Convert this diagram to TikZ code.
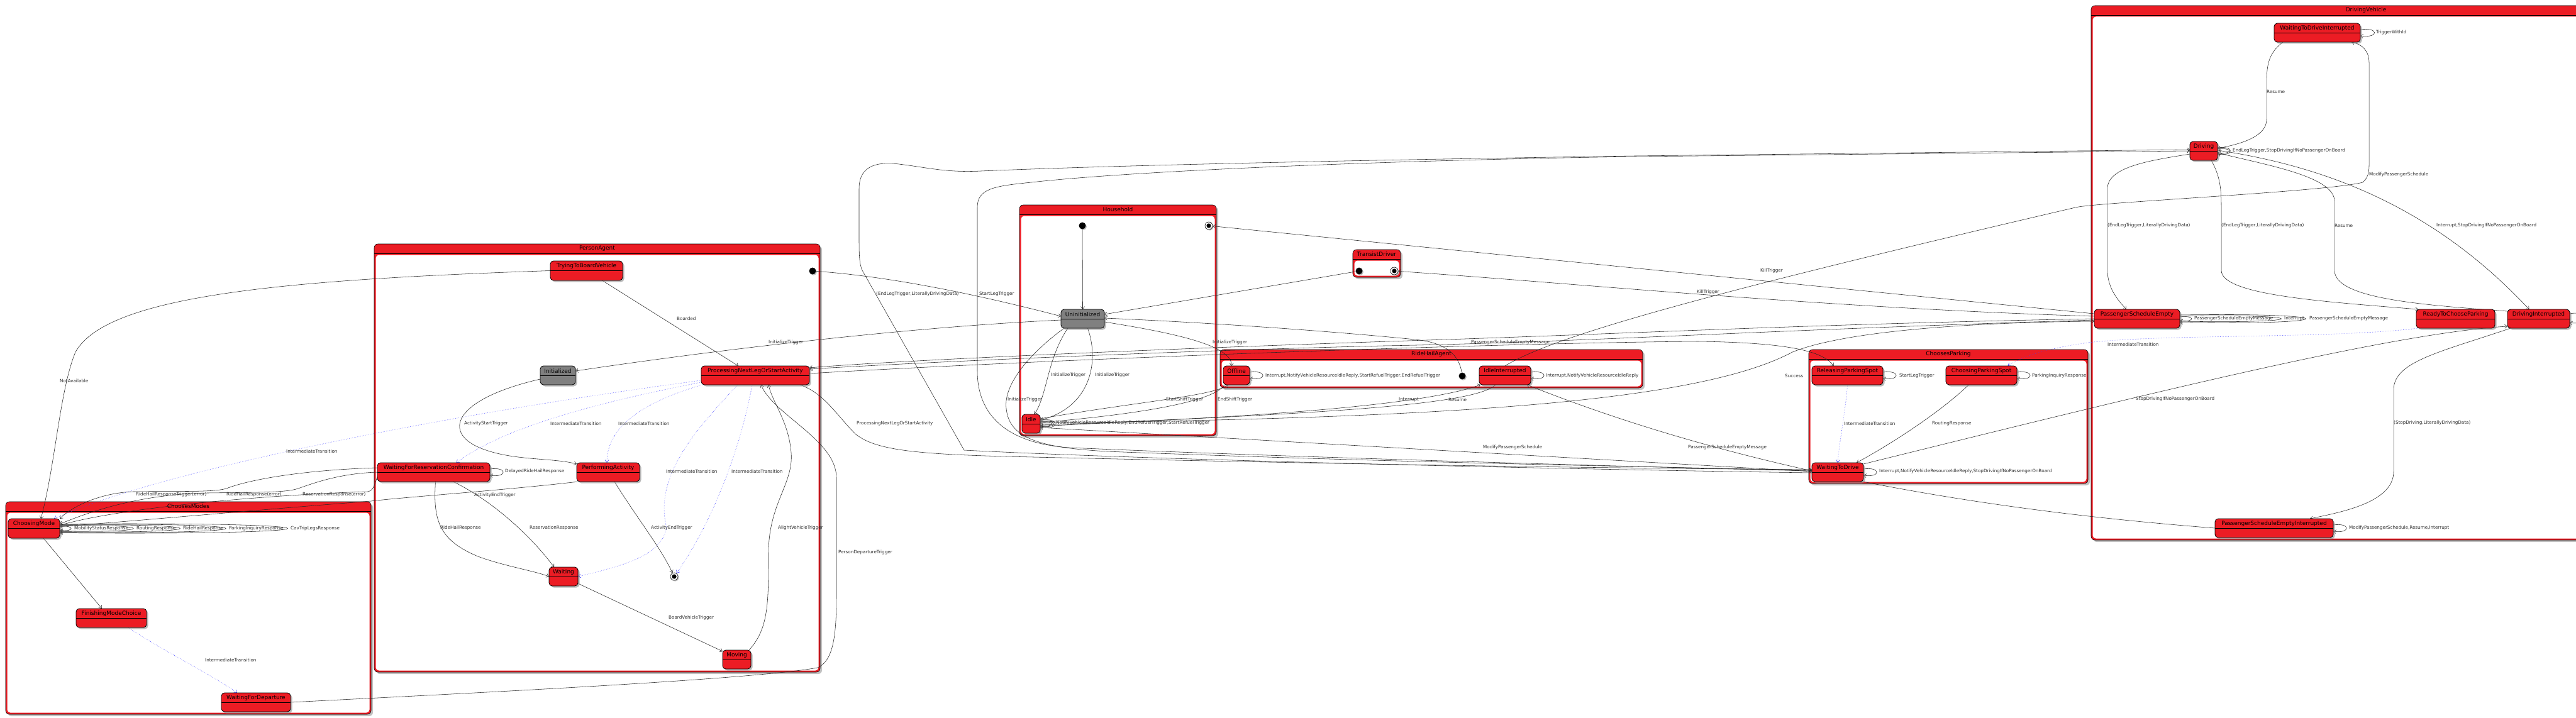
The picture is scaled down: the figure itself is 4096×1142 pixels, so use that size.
\documentclass[tikz,border=0pt]{standalone}
\usepackage{fontspec}
\setmainfont{DejaVu Sans}
\usetikzlibrary{arrows.meta,shadows,calc}
\definecolor{stred}{RGB}{236,28,36}
\definecolor{stgray}{RGB}{128,128,128}
\definecolor{lblc}{RGB}{45,45,45}
\pgfdeclarelayer{bg}
\pgfdeclarelayer{edges}
\pgfsetlayers{bg,edges,main}
\tikzset{
  stbox/.style={draw=black, line width=0.8pt, fill=stred, rounded corners=5pt, inner sep=0pt, outer sep=0pt,
    drop shadow={shadow xshift=2.5pt, shadow yshift=-2.5pt, fill=black!45, opacity=0.6}},
  stgraybox/.style={stbox, fill=stgray},
  sttext/.style={font=\fontsize{9}{10}\selectfont, inner sep=0pt, text=black},
  cttext/.style={font=\fontsize{9}{10}\selectfont, inner sep=0pt, text=black},
  lbl/.style={font=\fontsize{7.2}{8}\selectfont, inner sep=0pt, anchor=west, text=lblc},
  tr/.style={draw=black!85, line width=0.55pt, -{Straight Barb[length=4pt,width=6pt]}},
  it/.style={draw=blue!75, dotted, line width=0.6pt, -{Straight Barb[length=4pt,width=6pt]}},
  initdot/.style={circle, fill=black, minimum size=11pt, inner sep=0pt,
    drop shadow={shadow xshift=1.5pt, shadow yshift=-1.5pt, fill=black!40, opacity=0.6}},
  finaldot/.style={circle, draw=black, line width=0.6pt, fill=white, minimum size=12pt, inner sep=0pt,
    path picture={\fill[black] (path picture bounding box.center) circle (3.6pt);},
    drop shadow={shadow xshift=1.5pt, shadow yshift=-1.5pt, fill=black!40, opacity=0.6}},
}
\newcommand\mycont[6]{%
  \draw[line width=0.6pt, fill=stred, rounded corners=6pt,
    drop shadow={shadow xshift=3pt, shadow yshift=-3pt, fill=black!40, opacity=0.6}] (#2,#3) rectangle (#4,#5);
  \fill[white, rounded corners=5pt] ({#2+2.5},{#3+17.5}) rectangle ({#4-2.5},{#5-2.5});
  \draw[line width=0.6pt] (#2,{#3+15}) -- (#4,{#3+15});
  \node[cttext] (#1) at ({(#2+#4)/2},{#3+7.5}) {#6};
}
\newcommand\mystate[7]{%
  \node[#7, minimum width={#4-#2}, minimum height={#5-#3}] (#1) at ({(#2+#4)/2},{(#3+#5)/2}) {};
  \draw[line width=0.8pt] ($(#1.north west)+(0,15)$) -- ($(#1.north east)+(0,15)$);
  \node[sttext] (#1-t) at ($(#1.north)+(0,8)$) {#6};
}
\newcommand\myloop[4]{%
  \draw[tr] ($(#1.east)+(0,-#2)$) .. controls +(#3,-#4) and +(#3,#4) .. ($(#1.east)+(0,#2)$);
}
\begin{document}
\begin{tikzpicture}[x=1pt,y=-1pt]
\path[use as bounding box] (0,0) rectangle (4096,1142);
\begin{pgfonlayer}{bg}
\fill[white] (0,0) rectangle (4096,1142);
\mycont{cmc}{9}{798}{590}{1136}{ChoosesModes}
\mycont{pac}{595}{388}{1304}{1069}{PersonAgent}
\mycont{hhc}{1621}{326}{1934}{693}{Household}
\mycont{tdc}{2151}{397}{2227}{441}{TransistDriver}
\mycont{rhc}{1940}{556}{2612}{617}{RideHailAgent}
\mycont{cpc}{2876}{556}{3320}{769}{ChoosesParking}
\mycont{dvc}{3325}{9}{4199}{859}{DrivingVehicle}
\end{pgfonlayer}

% states
\mystate{cm}{13}{825}{95}{856}{ChoosingMode}{stbox}
\mystate{fmc}{121}{968}{233}{998}{FinishingModeChoice}{stbox}
\mystate{wfd}{352}{1102}{462}{1132}{WaitingForDeparture}{stbox}
\mystate{ttbv}{875}{415}{990}{446}{TryingToBoardVehicle}{stbox}
\mystate{init}{859}{582}{915}{612}{Initialized}{stgraybox}
\mystate{pnl}{1115}{582}{1287}{612}{ProcessingNextLegOrStartActivity}{stbox}
\mystate{wfrc}{600}{736}{779}{766}{WaitingForReservationConfirmation}{stbox}
\mystate{pa}{917}{736}{1017}{766}{PerformingActivity}{stbox}
\mystate{wait}{873}{902}{919}{932}{Waiting}{stbox}
\mystate{mov}{1149}{1034}{1194}{1064}{Moving}{stbox}
\mystate{unin}{1687}{492}{1756}{522}{Uninitialized}{stgraybox}
\mystate{idle}{1625}{659}{1654}{689}{Idle}{stbox}
\mystate{rhoff}{1945}{582}{1987}{612}{Offline}{stbox}
\mystate{idlei}{2352}{582}{2434}{612}{IdleInterrupted}{stbox}
\mystate{rps}{2881}{582}{2994}{612}{ReleasingParkingSpot}{stbox}
\mystate{cps}{3094}{582}{3207}{612}{ChoosingParkingSpot}{stbox}
\mystate{wtd}{2881}{736}{2963}{766}{WaitingToDrive}{stbox}
\mystate{wtdi}{3616}{37}{3753}{67}{WaitingToDriveInterrupted}{stbox}
\mystate{drv}{3482}{225}{3526}{255}{Driving}{stbox}
\mystate{pse}{3330}{492}{3466}{522}{PassengerScheduleEmpty}{stbox}
\mystate{rtcp}{3842}{492}{3967}{522}{ReadyToChooseParking}{stbox}
\mystate{di}{3987}{492}{4086}{522}{DrivingInterrupted}{stbox}
\mystate{psei}{3522}{825}{3710}{855}{PassengerScheduleEmptyInterrupted}{stbox}

\node[initdot] (painit) at (1292,431) {};
\node[finaldot] (pafin) at (1072,917) {};
\node[initdot] (hhinit) at (1721,359) {};
\node[finaldot] (hhfin) at (1922,359) {};
\node[initdot] (tdinit) at (2161,431) {};
\node[finaldot] (tdfin) at (2217,431) {};
\node[initdot] (rhinit) at (2325,598) {};

\begin{pgfonlayer}{edges}
% ChoosesModes
\draw[tr] ($(cm.south)+(15,0)$) -- ($(fmc.north)+(-15,0)$);
\draw[it] ($(fmc.south)+(27,0)$) .. controls (250,1030) and (340,1075) .. ($(wfd.north)+(-30,0)$);
\myloop{cm}{3}{24}{3}
\myloop{cm}{4}{156}{4}
\myloop{cm}{5}{255}{4}
\myloop{cm}{6}{352}{4}
\myloop{cm}{7}{483}{4}
\draw[tr] (ttbv.west) .. controls (450,445) and (170,470) .. (120,560) .. controls (95,620) and (88,740) .. ($(cm.north)+(11,0)$);
\draw[it] ($(pnl.west)+(0,8)$) .. controls (700,660) and (250,750) .. ($(cm.north)+(32,0)$);
\draw[tr] ($(wfrc.west)+(0,-7)$) .. controls (470,748) and (390,765) .. (360,777) .. controls (340,783) and (290,781) .. (212,782) .. controls (160,784) and (115,805) .. (cm.north east);
\draw[tr] (wfrc.west) .. controls (540,753) and (500,768) .. (474,777) .. controls (455,784) and (400,783) .. (330,784) .. controls (220,786) and (140,815) .. ($(cm.east)+(0,-7)$);
\draw[tr] ($(wfrc.west)+(0,7)$) .. controls (596,770) and (594,780) .. (585,782) .. controls (450,786) and (200,805) .. ($(cm.east)+(0,-5)$);
\draw[tr] ($(pa.south west)+(3,0)$) .. controls (800,780) and (650,790) .. (590,797) .. controls (420,810) and (200,830) .. ($(cm.east)+(0,-3)$);
% PersonAgent
\draw[tr] (painit) .. controls (1420,440) and (1560,470) .. ($(unin.west)+(0,-4)$);
\draw[tr] ($(ttbv.south)+(25,0)$) -- ($(pnl.north)+(-27,0)$);
\draw[tr] ($(unin.west)+(0,2)$) .. controls (1450,520) and (1150,555) .. ($(init.east)+(0,-7)$);
\draw[tr] ($(init.west)+(0,6)$) .. controls (720,635) and (700,690) .. (770,715) .. controls (820,733) and (880,728) .. ($(pa.north west)+(0,2)$);
\draw[it] ($(pnl.west)+(0,11)$) .. controls (950,640) and (800,680) .. ($(wfrc.north)+(36,0)$);
\draw[it] ($(pnl.south west)+(2,0)$) .. controls (1020,640) and (965,680) .. ($(pa.north)+(-2,0)$);
\draw[it] ($(pnl.south)+(-28,0)$) .. controls (1100,690) and (1040,760) .. (1060,840) .. controls (1050,885) and (990,900) .. (wait.east);
\draw[it] ($(pnl.south)+(-5,0)$) .. controls (1180,700) and (1140,820) .. (pafin);
\myloop{wfrc}{5}{28}{4}
\draw[tr] ($(wfrc.south)+(3,0)$) .. controls (688,830) and (700,860) .. (760,885) .. controls (800,900) and (850,908) .. (wait.west);
\draw[tr] ($(wfrc.south)+(31,0)$) .. controls (790,800) and (850,860) .. ($(wait.north)+(-15,0)$);
\draw[tr] ($(pa.south)+(10,0)$) .. controls (1010,820) and (1050,870) .. (pafin);
\draw[tr] ($(wait.east)+(0,11)$) -- ($(mov.north west)+(0,2)$);
\draw[tr] ($(mov.north east)+(-3,0)$) .. controls (1222,1000) and (1222,960) .. (1222,880) .. controls (1222,800) and (1262,770) .. (1258,720) .. controls (1254,670) and (1228,640) .. ($(pnl.south)+(21,0)$);
\draw[tr] (wfd.east) .. controls (800,1100) and (1200,1080) .. (1300,1062) .. controls (1328,1050) and (1330,1000) .. (1330,940) -- (1330,760) .. controls (1330,700) and (1230,660) .. ($(pnl.south)+(9,0)$);
\draw[tr] ($(pnl.south east)+(-15,0)$) .. controls (1310,625) and (1330,660) .. (1360,690) .. controls (1390,715) and (1450,722) .. (1600,726) .. controls (2200,740) and (2600,745) .. ($(wtd.west)+(0,-4)$);
% back edges to Driving
\draw[tr] ($(wtd.west)+(0,-2)$) .. controls (2500,740) and (2000,725) .. (1700,712) .. controls (1600,705) and (1554,660) .. (1554,590) -- (1554,330) .. controls (1554,300) and (1580,296) .. (1640,290) .. controls (1800,272) and (2200,255) .. (2600,249) -- (drv.west);
\draw[tr] ($(wtd.west)+(0,1)$) .. controls (2400,745) and (1800,730) .. (1533,716) -- (1371,430) .. controls (1366,420) and (1366,400) .. (1366,380) -- (1366,300) .. controls (1366,270) and (1385,258) .. (1420,260) .. controls (1470,265) and (1500,275) .. (1560,272) .. controls (1800,262) and (2200,254) .. (2600,248) -- ($(drv.west)+(0,-2)$);
% Household
\draw[tr] (hhinit) -- (unin.north);
\draw[tr] (tdinit) -- ($(unin.east)+(0,-7)$);
\draw[tr] (rhinit) .. controls (2320,565) and (2300,545) .. (2250,540) .. controls (2100,525) and (1900,512) .. ($(unin.east)+(0,-1)$);
\draw[tr] ($(unin.east)+(0,5)$) .. controls (1870,530) and (1960,550) .. ($(rhoff.north)+(-8,0)$);
\draw[tr] ($(unin.south west)+(11,0)$) .. controls (1665,570) and (1665,630) .. ($(idle.north)+(5,0)$);
\draw[tr] ($(unin.south)+(8,0)$) .. controls (1750,580) and (1730,650) .. ($(idle.east)+(0,-6)$);
\draw[tr] ($(unin.south west)+(5,0)$) .. controls (1640,560) and (1595,610) .. (1600,650) .. controls (1605,700) and (1660,712) .. (1760,718) .. controls (2200,735) and (2600,742) .. ($(wtd.west)+(0,-3)$);
\myloop{idle}{3}{24}{3}
\myloop{idle}{4}{28}{4}
\myloop{idle}{6}{32}{4}
\draw[tr] ($(idle.east)+(0,-8)$) .. controls (1800,640) and (1930,630) .. ($(rhoff.south)+(-13,0)$);
\draw[tr] ($(rhoff.south)+(-19,0)$) .. controls (1930,640) and (1800,660) .. ($(idle.east)+(0,-2)$);
\draw[tr] ($(idle.east)+(0,2)$) .. controls (1900,668) and (2250,650) .. ($(idlei.south west)+(2,0)$);
\draw[tr] ($(idlei.south)+(-15,0)$) .. controls (2340,650) and (2000,660) .. ($(idle.east)+(0,4)$);
\draw[tr] ($(idle.east)+(0,6)$) -- ($(wtd.west)+(0,-1)$);
\draw[tr] ($(idle.east)+(0,-1)$) .. controls (2300,665) and (2700,640) .. (2850,560) .. controls (2950,520) and (3200,512) .. ($(pse.west)+(0,4)$);
% RideHailAgent
\myloop{rhoff}{5}{28}{4}
\myloop{idlei}{5}{28}{4}
\draw[tr] (idlei.north) .. controls (2470,535) and (2700,470) .. (3300,330) .. controls (3330,322) and (3700,305) .. (3757,290) .. controls (3768,280) and (3767,270) .. (3767,250) -- (3767,100) .. controls (3767,80) and (3755,70) .. ($(wtdi.south east)+(-14,0)$);
\draw[tr] (psei.west) .. controls (3200,815) and (2800,760) .. ($(idlei.south east)+(-6,0)$);
% PSE out
\draw[tr] ($(pse.west)+(0,-8)$) -- (hhfin);
\draw[tr] ($(pse.west)+(0,-4)$) .. controls (2900,490) and (2500,450) .. (tdfin);
\draw[tr] (pse.west) .. controls (2900,515) and (2600,530) .. (2300,540) .. controls (1800,556) and (1400,575) .. ($(pnl.east)+(0,-12)$);
\draw[tr] ($(pse.west)+(0,2)$) .. controls (2800,525) and (2500,545) .. (2200,550) .. controls (1800,560) and (1400,580) .. ($(pnl.east)+(0,-10)$);
\draw[tr] ($(pnl.east)+(0,-3)$) .. controls (1700,570) and (2400,545) .. (2700,543) .. controls (2850,545) and (2900,560) .. ($(rps.north)+(-22,0)$);
% ChoosesParking
\myloop{rps}{5}{28}{4}
\myloop{cps}{5}{28}{4}
\myloop{wtd}{5}{28}{4}
\draw[it] (rps.south) .. controls (2935,650) and (2925,700) .. (wtd.north);
\draw[tr] ($(cps.south)+(-20,0)$) .. controls (3080,660) and (3000,710) .. ($(wtd.north)+(30,0)$);
\draw[tr] ($(wtd.north east)+(0,2)$) .. controls (3400,630) and (3800,530) .. ($(di.west)+(0,12)$);
\draw[it] ($(rtcp.south west)+(3,0)$) .. controls (3700,540) and (3400,530) .. (3300,548) .. controls (3240,558) and (3210,570) .. ($(cps.north)+(42,0)$);
% DrivingVehicle
\myloop{wtdi}{5}{30}{4}
\myloop{drv}{3}{25}{3}
\myloop{drv}{5}{27}{4}
\myloop{pse}{3}{25}{3}
\myloop{pse}{4}{215}{4}
\myloop{pse}{6}{267}{4}
\myloop{psei}{5}{28}{4}
\draw[tr] ($(di.east)+(0,-8)$) .. controls +(30,-6) and +(30,6) .. ($(di.east)+(0,6)$);
\draw[tr] ($(wtdi.south west)+(14,0)$) .. controls (3606,85) and (3604,105) .. (3604,135) -- (3604,190) .. controls (3604,215) and (3570,228) .. ($(drv.east)+(0,-4)$);
\draw[tr] ($(drv.west)+(0,5)$) .. controls (3420,255) and (3351,265) .. (3351,300) -- (3351,430) .. controls (3351,460) and (3370,480) .. ($(pse.north west)+(51,0)$);
\draw[tr] ($(drv.south)+(12,0)$) .. controls (3530,280) and (3532,300) .. (3532,330) -- (3532,430) .. controls (3532,470) and (3700,480) .. ($(rtcp.north west)+(3,0)$);
\draw[tr] ($(di.north west)+(0,3)$) .. controls (3850,485) and (3712,475) .. (3712,430) -- (3712,320) .. controls (3712,280) and (3600,262) .. ($(drv.east)+(0,3)$);
\draw[tr] ($(drv.east)+(0,-1)$) .. controls (3700,265) and (3870,330) .. ($(di.north)+(-15,0)$);
\draw[tr] ($(di.south west)+(5,0)$) .. controls (3880,560) and (3806,575) .. (3806,620) -- (3806,750) .. controls (3806,800) and (3720,815) .. ($(psei.north)+(57,0)$);
\end{pgfonlayer}

% labels
\node[lbl] (l1) at (326,1050) {IntermediateTransition};
\node[lbl] (l2) at (118,841) {MobilityStatusResponse};
\node[lbl] (l3) at (217,841) {RoutingResponse};
\node[lbl] (l4) at (291,841) {RideHailResponse};
\node[lbl] (l5) at (364,841) {ParkingInquiryResponse};
\node[lbl] (l6) at (462,841) {CavTripLegsResponse};
\node[lbl] (l7) at (216,787) {RideHailResponseTrigger(error)};
\node[lbl] (l8) at (360,787) {RideHailResponse(error)};
\node[lbl] (l9) at (481,787) {ReservationResponse(error)};
\node[lbl] (l10) at (95,606) {NotAvailable};
\node[lbl] (l11) at (455,718) {IntermediateTransition};
\node[lbl] (l12) at (754,788) {ActivityEndTrigger};
\node[lbl] (l13) at (1076,507) {Boarded};
\node[lbl] (l14) at (1222,545) {InitializeTrigger};
\node[lbl] (l15) at (738,674) {ActivityStartTrigger};
\node[lbl] (l16) at (875,674) {IntermediateTransition};
\node[lbl] (l17) at (983,674) {IntermediateTransition};
\node[lbl] (l18) at (1059,750) {IntermediateTransition};
\node[lbl] (l19) at (1163,750) {IntermediateTransition};
\node[lbl] (l20) at (803,750) {DelayedRideHailResponse};
\node[lbl] (l21) at (700,840) {RideHailResponse};
\node[lbl] (l22) at (842,840) {ReservationResponse};
\node[lbl] (l23) at (1035,840) {ActivityEndTrigger};
\node[lbl] (l24) at (1063,983) {BoardVehicleTrigger};
\node[lbl] (l25) at (1237,840) {AlightVehicleTrigger};
\node[lbl] (l26) at (1333,879) {PersonDepartureTrigger};
\node[lbl] (l27) at (1362,674) {ProcessingNextLegOrStartActivity};
\node[lbl] (l28) at (1393,468) {(EndLegTrigger,LiterallyDrivingData)};
\node[lbl] (l29) at (1557,468) {StartLegTrigger};
\node[lbl] (l30) at (1671,597) {InitializeTrigger};
\node[lbl] (l31) at (1741,597) {InitializeTrigger};
\node[lbl] (l32) at (1602,636) {InitializeTrigger};
\node[lbl] (l33) at (1928,545) {InitializeTrigger};
\node[lbl] (l34) at (1679,673) {NotifyVehicleResourceIdleReply,EndRefuelTrigger,StartRefuelTrigger};
\node[lbl] (l35) at (1854,636) {StartShiftTrigger};
\node[lbl] (l36) at (1936,636) {EndShiftTrigger};
\node[lbl] (l37) at (2012,598) {Interrupt,NotifyVehicleResourceIdleReply,StartRefuelTrigger,EndRefuelTrigger};
\node[lbl] (l38) at (2458,598) {Interrupt,NotifyVehicleResourceIdleReply};
\node[lbl] (l39) at (2224,636) {Interrupt};
\node[lbl] (l40) at (2303,636) {Resume};
\node[lbl] (l41) at (2339,545) {PassengerScheduleEmptyMessage};
\node[lbl] (l42) at (2358,712) {ModifyPassengerSchedule};
\node[lbl] (l43) at (2684,712) {PassengerScheduleEmptyMessage};
\node[lbl] (l44) at (2799,431) {KillTrigger};
\node[lbl] (l45) at (2698,465) {KillTrigger};
\node[lbl] (l46) at (2838,598) {Success};
\node[lbl] (l47) at (3020,598) {StartLegTrigger};
\node[lbl] (l48) at (3231,598) {ParkingInquiryResponse};
\node[lbl] (l49) at (2932,674) {IntermediateTransition};
\node[lbl] (l50) at (3072,674) {RoutingResponse};
\node[lbl] (l51) at (2988,750) {Interrupt,NotifyVehicleResourceIdleReply,StopDrivingIfNoPassengerOnBoard};
\node[lbl] (l52) at (3778,52) {TriggerWithId};
\node[lbl] (l53) at (3550,240) {EndLegTrigger,StopDrivingIfNoPassengerOnBoard};
\node[lbl] (l54) at (3604,146) {Resume};
\node[lbl] (l55) at (3767,278) {ModifyPassengerSchedule};
\node[lbl] (l56) at (3351,359) {(EndLegTrigger,LiterallyDrivingData)};
\node[lbl] (l57) at (3532,359) {(EndLegTrigger,LiterallyDrivingData)};
\node[lbl] (l58) at (3712,359) {Resume};
\node[lbl] (l59) at (3874,359) {Interrupt,StopDrivingIfNoPassengerOnBoard};
\node[lbl] (l60) at (3489,507) {PassengerScheduleEmptyMessage};
\node[lbl] (l61) at (3632,507) {Interrupt};
\node[lbl] (l62) at (3672,507) {PassengerScheduleEmptyMessage};
\node[lbl] (l63) at (3351,548) {IntermediateTransition};
\node[lbl] (l64) at (3396,635) {StopDrivingIfNoPassengerOnBoard};
\node[lbl] (l65) at (3806,673) {(StopDriving,LiterallyDrivingData)};
\node[lbl] (l66) at (3735,840) {ModifyPassengerSchedule,Resume,Interrupt};
\end{tikzpicture}
\end{document}
